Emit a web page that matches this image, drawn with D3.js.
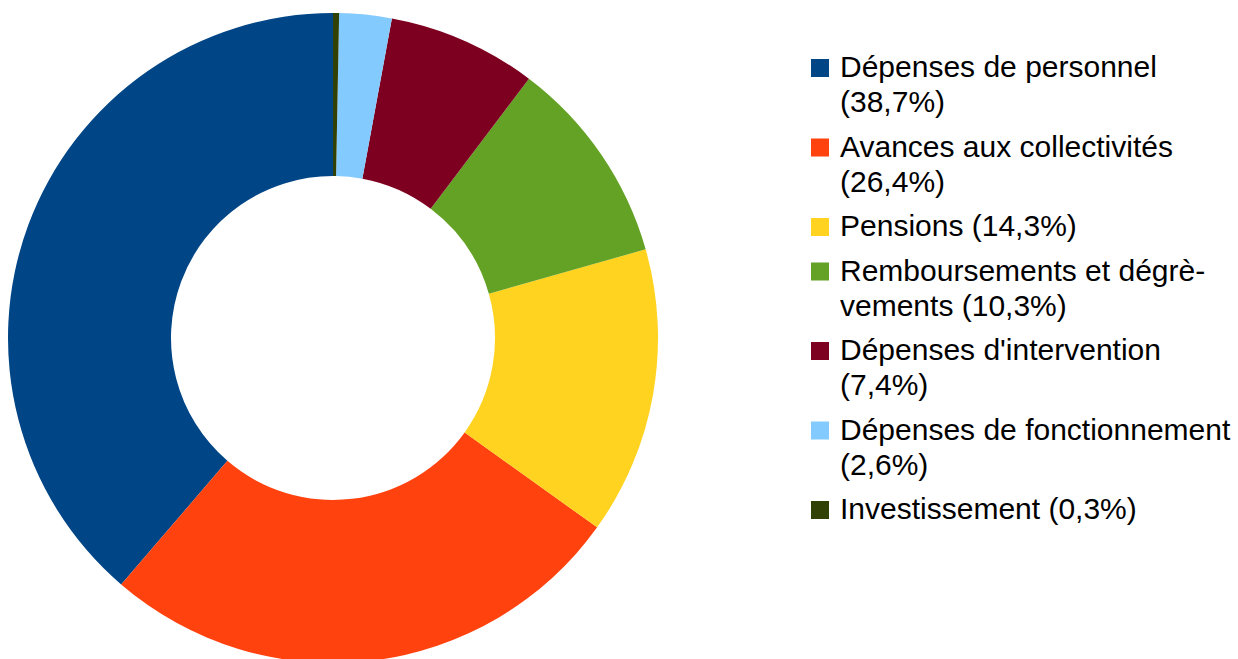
<!DOCTYPE html>
<html>
<head>
<meta charset="utf-8">
<script src="https://cdn.jsdelivr.net/npm/d3@7"></script>
<style>
  body { margin: 0; background: #fff; }
  svg { display: block; }
</style>
</head>
<body>
<div id="chart"></div>
<script>
// Chart data
const categories = [
  "Dépenses de personnel",
  "Avances aux collectivités",
  "Pensions",
  "Remboursements et dégrè\u00ADvements",
  "Dépenses d'intervention",
  "Dépenses de fonctionnement",
  "Investissement"
];
const values = [38.7, 26.4, 14.3, 10.3, 7.4, 2.6, 0.3];
const colors = ["#004586", "#ff420e", "#ffd320", "#63a224", "#7e0021", "#83caff", "#314004"];

const width = 1238, height = 659;

const svg = d3.select("#chart")
  .append("svg")
  .attr("width", width)
  .attr("height", height);

// Donut
const cx = 333, cy = 338;
const outerR = 325, innerR = 162;

const pie = d3.pie()
  .sort(null)
  .value(d => d.value)
  .startAngle(2 * Math.PI)   // counter-clockwise from 12 o'clock
  .endAngle(0);

const arc = d3.arc().innerRadius(innerR).outerRadius(outerR);

const data = categories.map((c, i) => ({ name: c, value: values[i], color: colors[i] }));

svg.append("g")
  .attr("transform", `translate(${cx},${cy})`)
  .selectAll("path")
  .data(pie(data))
  .enter().append("path")
  .attr("d", arc)
  .attr("fill", d => d.data.color);

// Legend
const fmt = v => d3.format(".1f")(v).replace(".", ",");
const legendX = 811, textX = 840;
const firstBaseline = 77, lineH = 35, entryGap = 44.5;
const maxW = 400;

const legend = svg.append("g")
  .style("font-family", "'Liberation Sans', Arial, sans-serif")
  .style("font-size", "30px")
  .style("fill", "#000");

// measure helper
const probe = legend.append("text").attr("x", -1000).attr("y", -1000);
const measure = s => { probe.text(s); return probe.node().getComputedTextLength(); };

// greedy wrap on spaces and soft hyphens
function wrap(label) {
  const tokens = [];
  label.split(" ").forEach((w, i, arr) => {
    const parts = w.split("\u00AD");
    parts.forEach((p, j) => {
      tokens.push({ text: p, hyphen: j < parts.length - 1 });
    });
  });
  const lines = [];
  let cur = "";
  let prevSep = "";
  tokens.forEach(t => {
    if (cur === "") {
      cur = t.text;
    } else {
      const candidate = cur + prevSep + t.text;
      if (measure(candidate) > maxW) {
        lines.push(cur + (prevSep === "" ? "-" : ""));
        cur = t.text;
      } else {
        cur = candidate;
      }
    }
    prevSep = t.hyphen ? "" : " ";
  });
  lines.push(cur);
  return lines;
}

let y = firstBaseline;
data.forEach(d => {
  const lines = wrap(`${d.name} (${fmt(d.value)}%)`);

  legend.append("rect")
    .attr("x", legendX)
    .attr("y", y - 18)
    .attr("width", 18)
    .attr("height", 18)
    .attr("fill", d.color);

  const text = legend.append("text").attr("x", textX).attr("y", y);
  lines.forEach((l, i) => {
    text.append("tspan")
      .attr("x", textX)
      .attr("y", y + i * lineH)
      .text(l);
  });

  y += (lines.length - 1) * lineH + entryGap;
});

probe.remove();
</script>
</body>
</html>
